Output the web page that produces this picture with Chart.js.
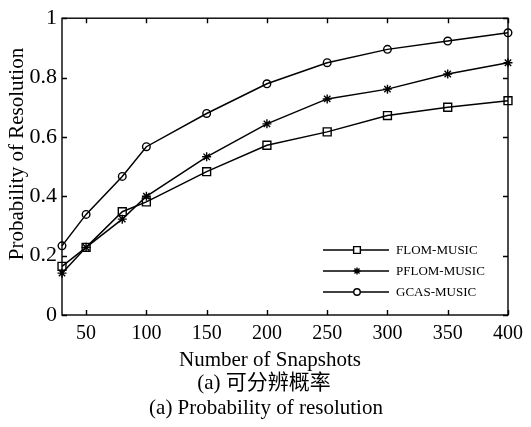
<!DOCTYPE html>
<html>
<head>
<meta charset="utf-8">
<script src="https://cdn.jsdelivr.net/npm/chart.js@4.4.1/dist/chart.umd.min.js"></script>
<style>
  html, body { margin: 0; padding: 0; background: #fff; }
  #wrap { position: relative; width: 531px; height: 427px; }
</style>
</head>
<body>
<div id="wrap"><canvas id="c" width="531" height="427"></canvas></div>
<script>
// ---- data ----
const snapshots = [30, 50, 80, 100, 150, 200, 250, 300, 350, 400];
const flomMusic  = [0.164, 0.228, 0.348, 0.381, 0.483, 0.572, 0.617, 0.672, 0.700, 0.722];
const pflomMusic = [0.141, 0.228, 0.323, 0.400, 0.533, 0.644, 0.728, 0.761, 0.812, 0.850];
const gcasMusic  = [0.233, 0.339, 0.467, 0.567, 0.679, 0.779, 0.850, 0.895, 0.923, 0.951];
const seriesNames = ['FLOM-MUSIC', 'PFLOM-MUSIC', 'GCAS-MUSIC'];
const xTicks = [50, 100, 150, 200, 250, 300, 350, 400];
const yTicks = [0, 0.2, 0.4, 0.6, 0.8, 1];
const yTickLabels = ['0', '0.2', '0.4', '0.6', '0.8', '1'];
const xTitle = 'Number of Snapshots';
const yTitle = 'Probability of Resolution';
const caption1 = '(a) 可分辨概率';
const caption2 = '(a) Probability of resolution';

const SERIF = '"Liberation Serif", "Times New Roman", "Noto Sans CJK SC", serif';

function pts(vals) { return snapshots.map((x, i) => ({ x: x, y: vals[i] })); }

const styles = [
  { pointStyle: 'rect', pointRadius: 5.6 },
  { pointStyle: 'star', pointRadius: 4.5 },
  { pointStyle: 'circle', pointRadius: 3.8 }
];
const seriesVals = [flomMusic, pflomMusic, gcasMusic];

const datasets = seriesVals.map((v, i) => ({
  label: seriesNames[i],
  data: pts(v),
  borderColor: '#000',
  borderWidth: 1.5,
  pointStyle: styles[i].pointStyle,
  pointRadius: styles[i].pointRadius,
  pointBorderWidth: 1.4,
  pointBorderColor: '#000',
  pointBackgroundColor: 'rgba(0,0,0,0)',
  tension: 0,
  fill: false,
  clip: false
}));

const framePlugin = {
  id: 'frame',
  afterDraw(chart) {
    const { ctx, chartArea: a, scales } = chart;
    const xs = scales.x, ys = scales.y;
    ctx.save();
    ctx.strokeStyle = '#000';
    ctx.lineWidth = 1.4;
    ctx.strokeRect(a.left, a.top, a.right - a.left, a.bottom - a.top);
    ctx.beginPath();
    const tl = 5;
    xTicks.forEach(v => {
      const px = Math.round(xs.getPixelForValue(v)) + 0.5;
      ctx.moveTo(px, a.bottom); ctx.lineTo(px, a.bottom - tl);
      ctx.moveTo(px, a.top); ctx.lineTo(px, a.top + tl);
    });
    yTicks.forEach(v => {
      const py = Math.round(ys.getPixelForValue(v)) + 0.5;
      ctx.moveTo(a.left, py); ctx.lineTo(a.left + tl, py);
      ctx.moveTo(a.right, py); ctx.lineTo(a.right - tl, py);
    });
    ctx.stroke();

    // legend
    const lx1 = 323, lx2 = 389, mx = 357, tx = 396;
    const rows = [250, 271, 292];
    ctx.font = '13px ' + SERIF;
    ctx.textAlign = 'left';
    ctx.textBaseline = 'middle';
    chart.data.datasets.forEach((ds, i) => {
      const y = rows[i];
      ctx.beginPath();
      ctx.lineWidth = 1.5;
      ctx.strokeStyle = '#000';
      ctx.moveTo(lx1, y); ctx.lineTo(lx2, y);
      ctx.stroke();
      ctx.fillStyle = '#fff';
      ctx.strokeStyle = '#000';
      ctx.lineWidth = 1.4;
      const r = ds.pointStyle === 'star' ? ds.pointRadius * 0.8 : ds.pointRadius * 0.85;
      Chart.helpers.drawPoint(ctx, { pointStyle: ds.pointStyle, radius: r, rotation: 0, borderWidth: 1.4 }, mx, y);
      ctx.fillStyle = '#000';
      ctx.fillText(ds.label, tx, y + 0.5);
    });

    // titles & captions
    ctx.fillStyle = '#000';
    ctx.textAlign = 'center';
    ctx.textBaseline = 'alphabetic';
    ctx.font = '21px ' + SERIF;
    ctx.fillText(xTitle, 270, 366);
    ctx.fillText(caption1, 264, 389);
    ctx.fillText(caption2, 266, 414);
    ctx.save();
    ctx.translate(23, 154);
    ctx.rotate(-Math.PI / 2);
    ctx.fillText(yTitle, 0, 0);
    ctx.restore();
    ctx.restore();
  }
};

new Chart(document.getElementById('c'), {
  type: 'line',
  data: { datasets: datasets },
  options: {
    responsive: false,
    animation: false,
    layout: { padding: { left: 0, top: 15, right: 23, bottom: 0 } },
    plugins: { legend: { display: false }, tooltip: { enabled: false }, title: { display: false } },
    scales: {
      x: {
        type: 'linear',
        min: 30, max: 400,
        grid: { display: false, drawTicks: false },
        border: { display: false },
        afterBuildTicks(s) { s.ticks = xTicks.map(v => ({ value: v })); },
        afterFit(s) { s.height = 112; },
        ticks: {
          color: '#000', padding: 7,
          font: { family: SERIF, size: 20 },
          maxRotation: 0, autoSkip: false,
          callback: (v) => String(v)
        }
      },
      y: {
        type: 'linear',
        min: 0, max: 1,
        grid: { display: false, drawTicks: false },
        border: { display: false },
        afterBuildTicks(s) { s.ticks = yTicks.map(v => ({ value: v })); },
        afterFit(s) { s.width = 62; },
        ticks: {
          color: '#000', padding: 5,
          font: { family: SERIF, size: 22 },
          autoSkip: false,
          callback: (v) => { const i = yTicks.findIndex(t => Math.abs(t - v) < 1e-9); return i >= 0 ? yTickLabels[i] : ''; }
        }
      }
    }
  },
  plugins: [framePlugin]
});
</script>
</body>
</html>
